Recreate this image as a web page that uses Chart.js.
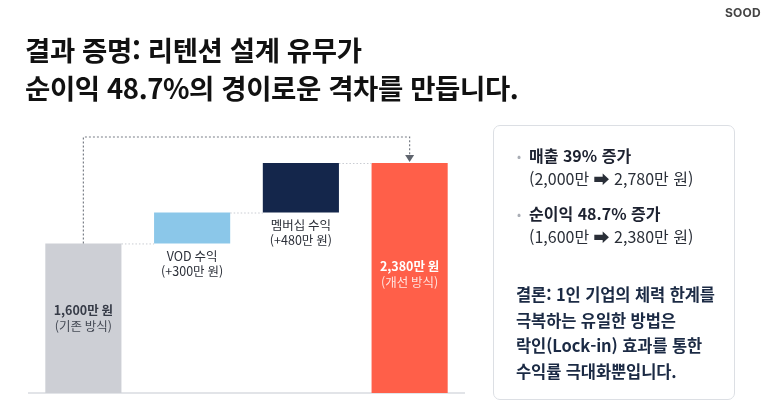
<!doctype html>
<html lang="ko">
<head>
<meta charset="utf-8">
<title>결과 증명</title>
<script src="https://cdn.jsdelivr.net/npm/chart.js@4"></script>
<style>
  html, body { margin: 0; padding: 0; background: #fff; }
  body { width: 773px; height: 414px; position: relative; overflow: hidden; font-family: "Noto Sans CJK KR", "Noto Sans", sans-serif; color: #111; }
  #chart { position: absolute; left: 0; top: 0; }
  .brand { position: absolute; left: 725px; top: 5px; font: 700 12px "Inter", "Noto Sans", sans-serif; color: #444; letter-spacing: 0.2px; }
  h1 { position: absolute; left: 25px; top: 30px; margin: 0; font-size: 27.5px; line-height: 38px; font-weight: 700; color: #111; letter-spacing: -0.4px; }
  .box { position: absolute; left: 493px; top: 125px; width: 242px; height: 275px; border: 1px solid #dcdfe4; border-radius: 7px; box-sizing: border-box; }
  .item { position: absolute; left: 35px; font-size: 16px; line-height: 23px; color: #2a2f38; }
  .item b { font-weight: 700; color: #1d2230; }
  .item .dot { position: absolute; left: -12px; top: 0; color: #a9adb5; font-size: 12px; }
  .concl { position: absolute; left: 22px; top: 156px; font-size: 16.5px; line-height: 25.5px; font-weight: 700; color: #1b2a44; letter-spacing: -0.1px; }
</style>
</head>
<body>
<canvas id="chart" width="773" height="414"></canvas>
<div class="brand">SOOD</div>
<h1>결과 증명: 리텐션 설계 유무가<br>순이익 48.7%의 경이로운 격차를 만듭니다.</h1>
<div class="box">
  <div class="item" style="top:18px"><span class="dot">•</span><b>매출 39% 증가</b><br>(2,000만 ➡ 2,780만 원)</div>
  <div class="item" style="top:76px"><span class="dot">•</span><b>순이익 48.7% 증가</b><br>(1,600만 ➡ 2,380만 원)</div>
  <div class="concl">결론: 1인 기업의 체력 한계를<br>극복하는 유일한 방법은<br>락인(Lock-in) 효과를 통한<br>수익률 극대화뿐입니다.</div>
</div>
<script>
// 워터폴 데이터 (단위: 만 원)
const categories = ['1,600만 원', 'VOD 수익', '멤버십 수익', '2,380만 원'];
const subLabels = ['(기존 방식)', '(+300만 원)', '(+480만 원)', '(개선 방식)'];
const stepValues = [1600, 300, 480, 2380];
const stepKinds = ['total', 'delta', 'delta', 'total'];
const barColors = ['#cdcfd5', '#8bc7e9', '#14264b', '#ff5f49'];
const yRange = [150, 2700];

// 누적값으로 떠 있는 막대 범위를 만든다
const ranges = [];
let running = 0;
stepValues.forEach((v, i) => {
  if (stepKinds[i] === 'total') { ranges.push([0, v]); running = v; }
  else { ranges.push([running, running + v]); running += v; }
});

const FONT = '"Noto Sans CJK KR", "Noto Sans", sans-serif';

const waterfallDecor = {
  id: 'waterfallDecor',
  afterDatasetsDraw(chart) {
    const ctx = chart.ctx;
    const bars = chart.getDatasetMeta(0).data;
    const area = chart.chartArea;
    ctx.save();

    // 막대 사이 점선 연결
    ctx.strokeStyle = '#c9ccd2';
    ctx.lineWidth = 1;
    ctx.setLineDash([1.5, 2]);
    for (let i = 0; i < bars.length - 1; i++) {
      const a = bars[i], b = bars[i + 1];
      ctx.beginPath();
      ctx.moveTo(a.x + a.width / 2, a.y + 0.5);
      ctx.lineTo(b.x - b.width / 2, a.y + 0.5);
      ctx.stroke();
    }

    // 기존 → 개선 괄호 화살표
    const first = bars[0], last = bars[bars.length - 1];
    const topY = area.top + 7;
    ctx.strokeStyle = '#7a7f88';
    ctx.lineWidth = 1.2;
    ctx.setLineDash([2, 2]);
    ctx.beginPath();
    ctx.moveTo(first.x, first.y);
    ctx.lineTo(first.x, topY);
    ctx.lineTo(last.x, topY);
    ctx.lineTo(last.x, last.y - 8);
    ctx.stroke();
    ctx.setLineDash([]);
    ctx.fillStyle = '#5f646d';
    ctx.beginPath();
    ctx.moveTo(last.x - 4.5, last.y - 8);
    ctx.lineTo(last.x + 4.5, last.y - 8);
    ctx.lineTo(last.x, last.y - 1);
    ctx.closePath();
    ctx.fill();

    // 라벨
    ctx.textAlign = 'center';
    ctx.textBaseline = 'middle';
    bars.forEach((bar, i) => {
      let y1, y2, c1, c2, w1 = 700, w2 = 400;
      if (stepKinds[i] === 'total') {
        const mid = (Math.max(bar.y, area.top) + Math.min(bar.base, area.bottom)) / 2;
        y1 = mid - 8; y2 = mid + 8;
        if (i === 0) { c1 = '#363b47'; c2 = '#454a55'; }
        else { c1 = '#ffffff'; c2 = 'rgba(255,255,255,0.82)'; y1 -= 4; y2 -= 4; }
      } else {
        y1 = bar.base + 13; y2 = bar.base + 28;
        c1 = '#2b2f38'; c2 = '#2b2f38'; w1 = 400;
      }
      ctx.font = w1 + ' 12.5px ' + FONT;
      ctx.fillStyle = c1;
      ctx.fillText(categories[i], bar.x, y1);
      ctx.font = w2 + ' 12.5px ' + FONT;
      ctx.fillStyle = c2;
      ctx.fillText(subLabels[i], bar.x, y2);
    });
    ctx.restore();
  }
};

new Chart(document.getElementById('chart'), {
  type: 'bar',
  data: {
    labels: categories,
    datasets: [{
      data: ranges,
      backgroundColor: barColors,
      borderWidth: 0,
      borderSkipped: false,
      categoryPercentage: 1,
      barPercentage: 0.7
    }]
  },
  options: {
    responsive: false,
    animation: false,
    events: [],
    layout: { padding: { left: 29, right: 309, top: 130, bottom: 21 } },
    plugins: { legend: { display: false }, tooltip: { enabled: false } },
    scales: {
      x: {
        display: true,
        ticks: { display: false },
        grid: { display: false, drawTicks: false },
        border: { display: true, color: '#e2e4e8', width: 2 }
      },
      y: { display: false, min: yRange[0], max: yRange[1] }
    }
  },
  plugins: [waterfallDecor]
});
</script>
</body>
</html>
